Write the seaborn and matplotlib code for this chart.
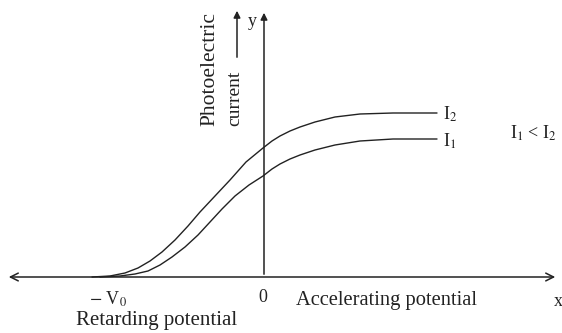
import matplotlib.pyplot as plt
import seaborn as sns
import pandas as pd

x_i2 = [92, 110, 125, 138, 150, 162, 175, 188, 200, 215, 230, 246, 263, 272, 280, 290, 300, 315, 335, 360, 393, 437]
y_i2 = [277, 276, 273, 268, 261, 252, 240, 226, 212, 196, 180, 162, 148, 141, 136, 131, 127, 122, 117, 114, 113, 113]
x_i1 = [100, 120, 135, 148, 160, 172, 185, 198, 210, 222, 235, 249, 263, 272, 280, 290, 300, 315, 335, 360, 393, 437]
y_i1 = [277, 276, 274, 271, 265, 257, 247, 235, 222, 209, 196, 185, 176, 169, 164, 159, 155, 150, 145, 141, 139, 139]
curve_names = ['I$_2$', 'I$_1$']

df = pd.concat([
    pd.DataFrame({'x': x_i2, 'y': y_i2, 'curve': curve_names[0]}),
    pd.DataFrame({'x': x_i1, 'y': y_i1, 'curve': curve_names[1]}),
])

sns.set_style('white')
plt.rcParams['font.family'] = ['Liberation Serif', 'DejaVu Serif']
plt.rcParams['mathtext.fontset'] = 'stix'

fig = plt.figure(figsize=(5.62, 3.33), dpi=100)
ax = fig.add_axes([0, 0, 1, 1])
sns.lineplot(data=df, x='x', y='y', hue='curve', palette=['#222222', '#222222'],
             linewidth=1.0, legend=False, sort=False, ax=ax)
ax.set_xlim(0, 562)
ax.set_ylim(333, 0)
ax.axis('off')

lk = dict(color='#222222', lw=1.1)
# axes
ax.annotate('', xy=(6, 277), xytext=(558, 277),
            arrowprops=dict(arrowstyle='<->', mutation_scale=14, **lk))
ax.annotate('', xy=(264, 10), xytext=(264, 277),
            arrowprops=dict(arrowstyle='-|>', mutation_scale=10, **lk))
# current arrow
ax.annotate('', xy=(237, 8), xytext=(237, 60),
            arrowprops=dict(arrowstyle='-|>', mutation_scale=10, **lk))

tc = '#222222'
ax.text(210, 69, 'Photoelectric', rotation=90, ha='center', va='center', fontsize=15.5, color=tc)
ax.text(235, 98, 'current', rotation=90, ha='center', va='center', fontsize=14, color=tc)
ax.text(252, 22, 'y', ha='center', va='center', fontsize=13, color=tc)
ax.text(558, 302, 'x', ha='center', va='center', fontsize=13, color=tc)
ax.text(263, 298, '0', ha='center', va='center', fontsize=13, color=tc)
ax.text(108, 299, '$-$ V$_0$', ha='center', va='center', fontsize=13, color=tc)
ax.text(157, 320, 'Retarding potential', ha='center', va='center', fontsize=15, color=tc)
ax.text(387, 301, 'Accelerating potential', ha='center', va='center', fontsize=14.8, color=tc)
ax.text(443, 114, curve_names[0], ha='left', va='center', fontsize=13, color=tc)
ax.text(443, 141, curve_names[1], ha='left', va='center', fontsize=13, color=tc)
ax.text(533, 133, 'I$_1$ < I$_2$', ha='center', va='center', fontsize=13, color=tc)

fig.savefig('out.png', dpi=100)
